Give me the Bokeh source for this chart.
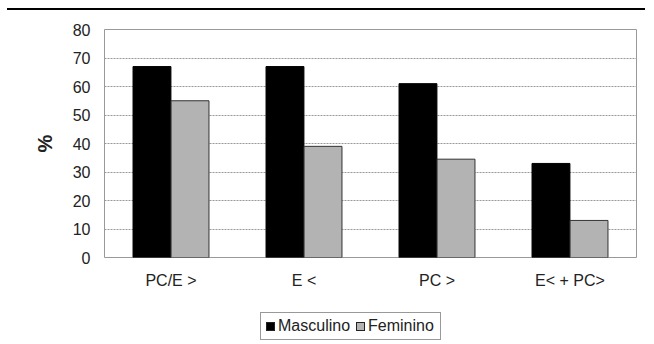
from bokeh.plotting import figure
from bokeh.models import ColumnDataSource, FactorRange, Range1d, Div, FixedTicker
from bokeh.transform import dodge
from bokeh.layouts import column
from bokeh.embed import file_html
from bokeh.resources import INLINE

categories = ["PC/E >", "E <", "PC >", "E< + PC>"]
masculino = [67, 67, 61, 33]
feminino = [55, 39, 34.5, 13]
y_ticks = [0, 10, 20, 30, 40, 50, 60, 70, 80]
series_names = ["Masculino", "Feminino"]
series_colors = ["black", "#b3b3b3"]

src = ColumnDataSource(dict(cat=categories, m=masculino, f=feminino))

p = figure(width=654, height=287, x_range=FactorRange(*categories, range_padding=0),
           y_range=Range1d(0, 80), output_backend="svg", toolbar_location=None,
           min_border_left=104, min_border_right=18, min_border_top=19, min_border_bottom=40,
           margin=0)

rm = p.vbar(x=dodge("cat", -0.143, range=p.x_range), top="m", width=0.285, source=src,
            fill_color=series_colors[0], line_color="black", line_width=1)
rf = p.vbar(x=dodge("cat", 0.143, range=p.x_range), top="f", width=0.285, source=src,
            fill_color=series_colors[1], line_color="#333333", line_width=1)

p.outline_line_color = "#999999"
p.outline_line_width = 1
p.xgrid.grid_line_color = None
p.ygrid.grid_line_color = "#999999"
p.ygrid.grid_line_dash = "2 1"
p.ygrid.grid_line_width = 1

p.yaxis.ticker = FixedTicker(ticks=y_ticks)
for ax in (p.xaxis[0], p.yaxis[0]):
    ax.axis_line_color = None
    ax.major_tick_line_color = None
    ax.minor_tick_line_color = None
    ax.major_label_text_font = "Liberation Sans"
    ax.major_label_text_font_size = "16px"
    ax.major_label_text_color = "#222222"
p.xaxis.major_label_standoff = 8
p.yaxis.major_label_standoff = 8
p.yaxis.axis_label = "%"
p.yaxis.axis_label_text_font = "Liberation Sans"
p.yaxis.axis_label_text_font_size = "20px"
p.yaxis.axis_label_text_font_style = "bold"
p.yaxis.axis_label_text_color = "#222222"
p.yaxis.axis_label_standoff = 14

sq = ("display:inline-block;width:9px;height:9px;border:1px solid #222;"
      "background:{c};margin-right:3px;vertical-align:middle;")
items = "".join(
    f'<span style="margin-right:6px;white-space:nowrap;"><span style="{sq.format(c=c)}"></span>{n}</span>'
    for n, c in zip(series_names, series_colors))
legend_html = (f'<div style="font-family:\'Liberation Sans\';font-size:16px;color:#222;'
               f'border:1px solid #999;padding:3px 0 3px 5px;line-height:20px;white-space:nowrap;">'
               f'{items}</div>')
legend_div = Div(text=legend_html, width=182, height=28, margin=(15, 0, 0, 260))

top = Div(text="", width=638, height=10, margin=(0, 0, 0, 7),
          styles={"border-bottom": "2px solid black", "box-sizing": "border-box"})

layout = column(top, p, legend_div, spacing=0)
open("out.html", "w").write(file_html(layout, INLINE))
